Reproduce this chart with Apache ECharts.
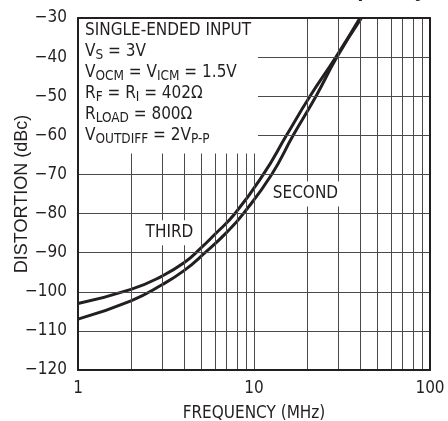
<!DOCTYPE html>
<html>
<head>
<meta charset="utf-8">
<script src="https://cdn.jsdelivr.net/npm/echarts@6/dist/echarts.min.js"></script>
<style>html,body{margin:0;padding:0;background:#fff}#c{width:448px;height:421px}</style>
</head>
<body>
<div id="c"></div>
<script>
// ---- data ----
const thirdFreq = [1, 2, 3, 4, 5, 6, 7.8, 11.3, 15.3, 20.8, 29.2, 40.0];
const thirdDist = [-103.0, -99.4, -96.0, -92.6, -88.8, -85.3, -80, -70, -60, -50, -40, -30];
const secondFreq = [1, 2, 3, 4, 5.27, 7, 8.7, 12.6, 16.7, 22.5, 29.6, 40.8];
const secondDist = [-107.0, -102.3, -98.2, -94.6, -90, -84.8, -80, -70, -60, -50, -40, -30];
const yTicks = [-120, -110, -100, -90, -80, -70, -60, -50, -40, -30];
const xGrid = [2, 3, 4, 5, 6, 7, 8, 9, 10, 20, 30, 40, 50, 60, 70, 80, 90];
const noteLines = [
  'SINGLE-ENDED INPUT',
  'V{s|S} = 3V',
  'V{s|OCM} = V{s|ICM} = 1.5V',
  'R{s|F} = R{s|I} = 402\u03A9',
  'R{s|LOAD} = 800\u03A9',
  'V{s|OUTDIFF} = 2V{s|P-P}'
];
const curveNames = ['THIRD', 'SECOND'];

const INK = '#231f20';
const NARROW = "'Liberation Sans Narrow', 'DejaVu Sans Condensed', 'Liberation Sans', sans-serif";
const FS = 17;
const minus = v => (v < 0 ? '\u2212' + Math.abs(v) : String(v));

const chart = echarts.init(document.getElementById('c'), null, {renderer: 'canvas'});
const pairs = (xs, ys) => xs.map((x, i) => [x, ys[i]]);

const gridLineStyle = {color: '#4a4a4a', width: 1, type: 'solid'};
const frameAxis = {
  axisTick: {show: false}, splitLine: {show: false}, axisLabel: {show: false},
  axisLine: {show: true, onZero: false, lineStyle: {color: INK, width: 2}}, z: 10
};

chart.setOption({
  animation: false,
  backgroundColor: '#fff',
  title: {
    text: 'Distortion vs Frequency',
    right: 16, top: -26,
    textStyle: {fontSize: 22, fontWeight: 'bold', fontFamily: "'Liberation Sans', sans-serif", color: INK}
  },
  grid: {left: 78, right: 18, top: 18, bottom: 51, outerBoundsMode: 'none', containLabel: false},
  xAxis: [{
    type: 'log', logBase: 10, min: 1, max: 100, z: 10,
    axisLine: {show: true, onZero: false, lineStyle: {color: INK, width: 2}},
    axisTick: {show: false}, splitLine: {show: false}, minorTick: {show: false},
    axisLabel: {margin: 10, fontSize: FS, color: INK, fontFamily: NARROW},
    name: 'FREQUENCY (MHz)', nameLocation: 'middle', nameGap: 35, nameMoveOverlap: false,
    nameTextStyle: {fontSize: FS, color: INK, fontFamily: NARROW}
  }, Object.assign({type: 'log', logBase: 10, min: 1, max: 100, position: 'top'}, frameAxis)],
  yAxis: [{
    type: 'value', min: -120, max: -30, interval: 10, z: 10,
    axisLine: {show: true, onZero: false, lineStyle: {color: INK, width: 2}},
    axisTick: {show: false}, splitLine: {show: false},
    axisLabel: {margin: 11, fontSize: FS, color: INK, fontFamily: NARROW, formatter: minus},
    name: 'DISTORTION (dBc)', nameLocation: 'middle', nameGap: 47, nameMoveOverlap: false,
    nameTextStyle: {fontSize: 18, color: INK, fontFamily: "'Liberation Sans', sans-serif"}
  }, Object.assign({type: 'value', min: -120, max: -30, interval: 10, position: 'right'}, frameAxis)],
  series: [
    {
      type: 'line', data: [], z: 1, silent: true,
      markLine: {
        silent: true, symbol: ['none', 'none'], label: {show: false},
        lineStyle: gridLineStyle, emphasis: {disabled: true},
        data: xGrid.map(v => ({xAxis: v})).concat(
          yTicks.slice(1, -1).map(v => ({yAxis: v})))
      }
    },
    {
      name: curveNames[0], type: 'line', z: 3, smooth: 0.5, symbol: 'none',
      lineStyle: {color: INK, width: 3},
      data: pairs(thirdFreq, thirdDist),
      markPoint: {
        silent: true, symbol: 'rect', symbolSize: 1, itemStyle: {color: 'rgba(0,0,0,0)'},
        label: {show: true, position: 'inside', formatter: curveNames[0], backgroundColor: '#fff',
          padding: [4, 3], color: INK, fontSize: FS, fontFamily: NARROW},
        data: [{coord: [3.31, -84.9]}]
      }
    },
    {
      name: curveNames[1], type: 'line', z: 3, smooth: 0.5, symbol: 'none',
      lineStyle: {color: INK, width: 3},
      data: pairs(secondFreq, secondDist),
      markPoint: {
        silent: true, symbol: 'rect', symbolSize: 1, itemStyle: {color: 'rgba(0,0,0,0)'},
        label: {show: true, position: 'inside', formatter: curveNames[1], backgroundColor: '#fff',
          padding: [4, 3], color: INK, fontSize: FS, fontFamily: NARROW},
        data: [{coord: [19.6, -75.0]}]
      }
    }
  ]
});

// white annotation box with the test conditions
const pA = chart.convertToPixel({xAxisIndex: 0, yAxisIndex: 0}, [1, -30]);
const pB = chart.convertToPixel({xAxisIndex: 0, yAxisIndex: 0}, [10.4, -64.4]);
chart.setOption({
  graphic: [
    {
      type: 'rect', z: 50, silent: true,
      shape: {x: pA[0] + 1, y: pA[1] + 1, width: pB[0] - pA[0], height: pB[1] - pA[1]},
      style: {fill: '#fff'}
    },
    {
      type: 'text', z: 51, silent: true, x: pA[0] + 7, y: pA[1] + 2,
      style: {
        text: noteLines.join('\n'), fill: INK, fontSize: FS, fontFamily: NARROW,
        lineHeight: 21, verticalAlign: 'top', align: 'left',
        rich: {
          s: {fontSize: 13.5, fontFamily: NARROW, fill: INK, lineHeight: 13, padding: [8, 0, 0, 0]}
        }
      }
    }
  ]
});
</script>
</body>
</html>
